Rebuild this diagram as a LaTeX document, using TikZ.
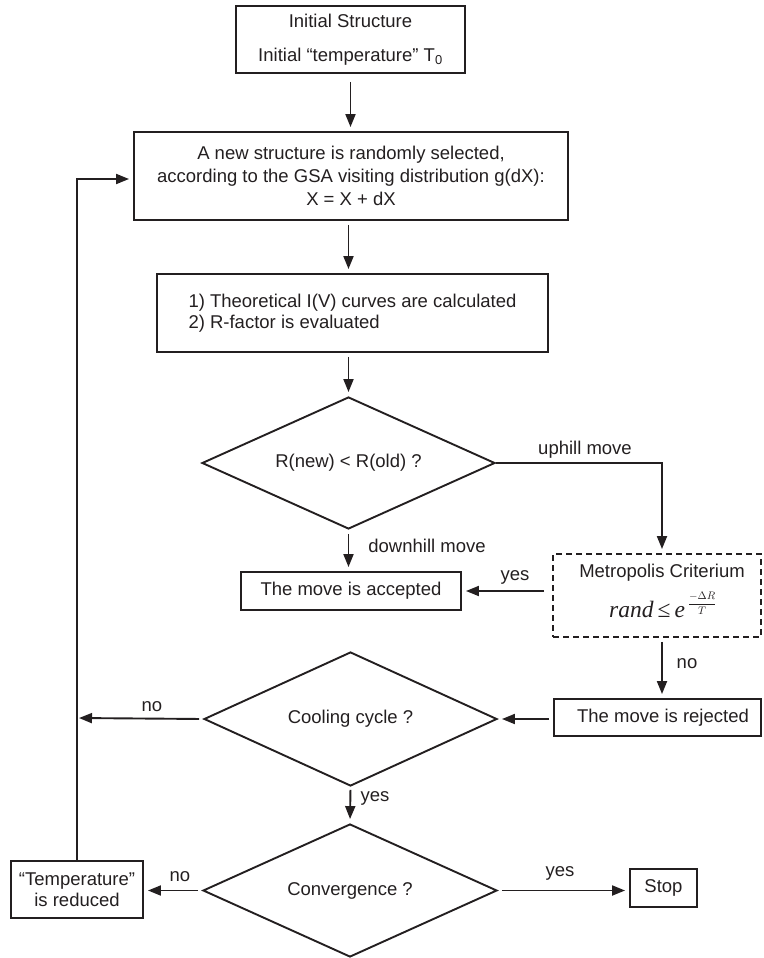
\documentclass[tikz,border=0pt]{standalone}
\usepackage{fontspec}
\setmainfont{Liberation Sans}
\newfontfamily\serifmath{Liberation Serif}
\usetikzlibrary{shapes.geometric,arrows.meta}
\definecolor{ink}{RGB}{35,31,32}
\begin{document}
\begin{tikzpicture}[x=1pt,y=-1pt,
  every node/.style={font=\fontsize{18.5}{22.5}\selectfont, text=ink},
  box/.style={draw=ink, line width=1.9pt, rectangle, inner sep=0pt, align=center},
  dbox/.style={box, dash pattern=on 6pt off 4pt},
  dec/.style={draw=ink, line width=1.9pt, diamond, aspect=2.2, inner sep=0pt},
  arr/.style={draw=ink, line width=1.9pt, -{Triangle[length=13pt,width=10pt]}, shorten >=4pt, shorten <=4pt},
  lbl/.style={inner sep=0pt}]
\useasboundingbox (0,0) rectangle (763,958);

% nodes
\node[box, minimum width=229pt, minimum height=67pt] (init) at (350.5,39.5)
  {Initial Structure\\[12pt]Initial “temperature” T\textsubscript{0}};
\node[box, minimum width=434pt, minimum height=88pt, font=\fontsize{18.5}{23}\selectfont] (gsa) at (351,176)
  {A new structure is randomly selected,\\according to the GSA visiting distribution g(dX):\\X = X + dX};
\node[box, minimum width=391pt, minimum height=78pt, align=left, font=\fontsize{18.5}{21.5}\selectfont] (theo) at (352.5,313)
  {1) Theoretical I(V) curves are calculated\\2) R-factor is evaluated};
\node[dec, minimum width=293pt, minimum height=132pt] (d1) at (348.5,463) {R(new) < R(old) ?};
\node[box, minimum width=220pt, minimum height=38pt] (acc) at (351,591) {The move is accepted};
\node[dbox, minimum width=208pt, minimum height=83pt] (metro) at (657,595.5) {};
\node[lbl] (metrot) at (662,573) {Metropolis Criterium};
\node[lbl, anchor=base west, font=\fontsize{23.5}{24}\serifmath] (metrof) at (609,617)
  {\itshape rand\hspace{4pt}\upshape ≤\hspace{4pt}\itshape e\hspace{3pt}\raisebox{10pt}{\fontsize{11}{11}\selectfont$\displaystyle\frac{-\Delta R}{T}$}};
\node[box, minimum width=207pt, minimum height=37pt] (rej) at (657.5,717.5) {};
\node[lbl] (rejt) at (663,718) {The move is rejected};
\node[dec, minimum width=293pt, minimum height=134pt] (d2) at (350.5,719) {Cooling cycle ?};
\node[dec, minimum width=294pt, minimum height=133pt] (d3) at (350,890.5) {Convergence ?};
\node[box, minimum width=132pt, minimum height=57pt, font=\fontsize{18.5}{21}\selectfont] (temp) at (77,889.5)
  {“Temperature”\\is reduced};
\node[box, minimum width=67pt, minimum height=38pt] (stop) at (663.5,888) {Stop};

% helper coordinates
\coordinate (upc) at (662,463);
\coordinate (loopc) at (77,718);
\coordinate (loopt) at (77,179);

% connectors
\draw[arr, shorten <=8pt] (init.south) -- (init.south |- gsa.north);
\draw[arr] (gsa.south -| d1.north) -- (theo.north -| d1.north);
\draw[arr] (theo.south -| d1.north) -- (d1.north);
\draw[arr, shorten <=0pt] (d1.east) -- (upc) -- (metro.north -| upc);
\draw[arr] (d1.south) -- (acc.north -| d1.south);
\draw[arr, shorten <=8pt] (metro.west |- acc.east) -- (acc.east);
\draw[arr] (metro.south -| upc) -- (rej.north -| upc);
\draw[arr] (rej.west |- d2.east) -- (d2.east);
\draw[arr, shorten >=2pt] (d2.west) -- (loopc);
\draw[arr, shorten <=0pt] (temp.north) -- (loopt) -- (loopt -| gsa.west);
\draw[arr, shorten <=3pt] (d2.south) -- (d3.north);
\draw[arr] (d3.west) -- (temp.east |- d3.west);
\draw[arr] (d3.east) -- (stop.west |- d3.east);

% labels
\node[lbl] (lup) at (585,450) {uphill move};
\node[lbl] (ldown) at (427,546) {downhill move};
\node[lbl] (lyes1) at (515,577) {yes};
\node[lbl] (lno1) at (687,664) {no};
\node[lbl] (lno2) at (152,707) {no};
\node[lbl] (lyes2) at (375,798) {yes};
\node[lbl] (lno3) at (180,877) {no};
\node[lbl] (lyes3) at (560,873) {yes};
\end{tikzpicture}
\end{document}
